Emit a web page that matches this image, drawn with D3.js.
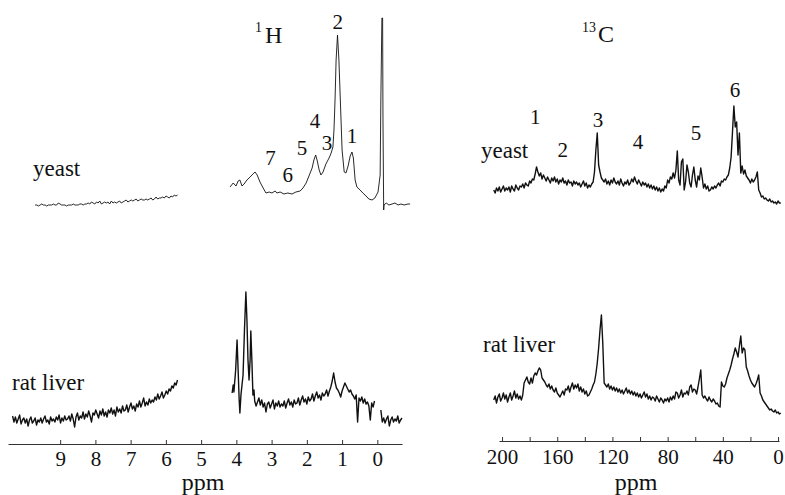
<!DOCTYPE html>
<html>
<head>
<meta charset="utf-8">
<script src="https://cdn.jsdelivr.net/npm/d3@7"></script>
</head>
<body style="margin:0; background:#fff">
<div id="my_dataviz"></div>
<script>
// tick values for the two ppm axes
const hTicks = [9, 8, 7, 6, 5, 4, 3, 2, 1, 0];
const cTicks = [200, 180, 160, 140, 120, 100, 80, 60, 40, 20, 0];

// peak numbers, their shift (ppm) and the height of the label (intensity units)
const hPeakText = ["1", "2", "3", "4", "5", "6", "7"];
const hPeakPpm = [0.72, 1.12, 1.43, 1.77, 2.14, 2.54, 3.03];
const hPeakLevel = [67, 181, 60, 82, 55, 28, 45];
const cPeakText = ["1", "2", "3", "4", "5", "6"];
const cPeakPpm = [176, 156, 130.5, 101.5, 59.4, 31.2];
const cPeakLevel = [86, 53, 83, 61, 70, 113];

// yeast 1H, low-field part (9.71 ppm down, step 0.047 ppm)
const yeastH_left = [
  5,5,4,5,6,5,5,4,5,5, 5,6,5,5,7,6,5,5,5,4, 5,5,5,6,5,5,5,6,6,5,
  6,6,7,6,8,7,6,8,7,9, 6,7,8,7,8,6,9,7,8,7, 8,9,7,8,9,10,8,9,10,9,
  10,11,9,10,11,10,10,11,10,11, 12,10,11,13,11,12,12,13,12,14, 13,12,14,13,15,14,15
];

// yeast 1H, high-field part [ppm, intensity]
const yeastH_right = [
  [4.18,23],[4.09,27],[4.01,24],[3.95,29],[3.90,30],[3.84,24],[3.78,26],[3.70,30],
  [3.61,33],[3.53,36],[3.47,38],[3.41,35],[3.33,28],[3.24,22],[3.16,17],[3.07,18],
  [2.99,17],[2.90,19],[2.85,17],[2.76,18],[2.65,16],[2.54,17],[2.42,16],[2.31,18],
  [2.19,19],[2.11,22],[2.02,27],[1.94,34],[1.85,42],[1.80,50],[1.75,55],[1.71,50],
  [1.65,40],[1.60,35],[1.54,38],[1.46,46],[1.37,52],[1.31,57],[1.26,63],[1.23,80],
  [1.20,110],[1.17,150],[1.13,175],[1.09,150],[1.04,100],[1.00,60],[0.94,38],[0.89,37],
  [0.83,44],[0.77,54],[0.72,58],[0.68,52],[0.63,30],[0.58,23],[0.49,20],[0.41,17],
  [0.32,14],[0.24,11],[0.15,10],[0.07,12],[-0.02,18],[-0.08,35],[-0.10,110],[-0.13,192],
  [-0.15,192],[-0.16,90],[-0.18,0],[-0.19,5],[-0.25,7],[-0.33,5],[-0.42,6],[-0.50,7],
  [-0.59,5],[-0.67,6],[-0.76,5],[-0.87,6],[-0.93,6]
];

// rat liver 1H, low-field part (10.35 ppm down, step 0.04 ppm)
const liverH_left = [
  9,3,8,2,6,10,1,5,7,2, 6,-1,5,8,2,4,7,0,5,3, 7,2,6,9,3,5,1,8,4,6,
  3,8,5,10,2,7,4,9,5,6, 9,4,11,6,-2,8,12,5,9,7, 13,6,11,8,14,9,3,12,10,15,
  11,7,14,10,16,9,13,8,15,12, 17,11,15,9,18,13,16,12,19,14, 15,20,13,18,22,16,19,14,21,18,
  24,18,22,27,19,23,20,26,22,25, 23,28,25,31,26,29,33,27,30,34, 31,36,34,39,37,42,40,45
];

// rat liver 1H, glucose/glycogen peaks [ppm, intensity]
const liverH_peaks = [
  [4.12,32],[4.09,40],[4.07,33],[4.02,55],[3.98,85],[3.95,55],[3.92,25],[3.90,12],
  [3.87,30],[3.84,40],[3.81,50],[3.77,95],[3.73,133],[3.70,105],[3.67,65],[3.64,45],
  [3.61,65],[3.59,94],[3.56,65],[3.53,30],[3.50,35]
];

// rat liver 1H, 3.48 ppm down to 0.08 ppm (step 0.04 ppm)
const liverH_mid = [
  24,19,23,27,20,25,18,22,13,21, 23,17,21,25,16,22,19,24,18,21,
  19,24,17,22,26,20,23,18,25,21, 22,27,20,25,29,23,26,21,28,24,
  26,31,24,29,33,27,30,25,32,29, 31,35,29,34,38,44,52,43,37,35,
  32,28,34,38,42,39,36,33,35,31, 29,26,30,3,27,24,28,22,26,21,
  23,19,5,22,18,24
];

// rat liver 1H, right of TMS (-0.10 ppm down, step 0.04 ppm)
const liverH_right = [15,3,7,2,6,9,-1,5,8,3,6,4,9,2,5,7];

// yeast 13C, 206 ppm down to -2 ppm, step 1 ppm
const yeastC = [
  20,17,22,19,23,18,21,24,19,22, 20,23,18,24,21,19,25,22,20,24,
  23,26,22,27,25,24,29,27,31,30, 36,43,38,34,37,31,35,32,29,33,
  30,27,32,29,33,28,31,26,30,28, 32,27,29,25,30,27,28,24,29,26,
  28,25,27,23,26,29,24,27,22,25, 23,26,28,38,60,77,45,38,32,30,
  28,31,26,29,25,30,27,32,28,26, 29,25,31,27,24,28,26,30,25,27,
  31,28,33,29,26,30,27,24,28,25, 27,23,26,22,25,21,24,20,23,19,
  22,18,21,19,24,22,30,27,33,31, 37,32,40,59,30,25,48,51,20,28,
  45,38,27,23,35,43,30,23,34,30, 42,33,22,26,21,24,19,20,23,21,
  24,22,25,27,24,29,28,31,30,33, 35,42,53,78,104,83,88,55,77,37,
  44,36,40,34,32,30,27,31,28,30, 33,38,20,17,13,14,11,12,10,9,
  11,8,9,7,8,6,9,7,7
];

// rat liver 13C, 206 ppm down to -2 ppm, step 1 ppm
const liverC = [
  20,24,17,23,26,19,22,27,21,25, 18,23,27,20,24,29,22,26,21,24,
  20,25,37,40,43,38,36,42,37,44, 47,45,49,52,50,42,40,38,35,33,
  36,31,34,30,28,32,27,25,23,26, 29,25,31,30,34,28,33,37,31,35,
  32,36,29,33,28,31,26,29,24,25, 28,31,35,38,46,57,72,90,105,77,
  37,35,33,36,31,34,30,33,29,32, 28,31,27,30,26,29,32,27,30,26,
  29,25,28,24,27,23,26,22,25,28, 23,26,21,24,20,23,22,19,24,21,
  18,22,20,17,21,19,22,18,23,20, 24,21,28,27,22,25,30,23,27,26,
  29,25,33,35,28,31,30,26,33,41, 50,25,22,24,21,19,23,20,18,21,
  19,16,17,14,13,38,34,33,36,42, 46,50,55,61,66,72,68,63,74,84,
  67,72,70,53,49,44,40,37,35,33, 36,40,45,27,24,20,18,16,14,12,
  10,11,9,8,10,7,8,6,7
];

const width = 785, height = 495;
const serif = "Liberation Serif";

const svg = d3.select("#my_dataviz")
  .append("svg")
  .attr("width", width)
  .attr("height", height);

svg.append("rect").attr("width", width).attr("height", height).attr("fill", "#fff");

// scales
const xH = d3.scaleLinear().domain([10.48, -0.7]).range([8, 402]);
const xC = d3.scaleLinear().domain([202.2, -0.7]).range([499, 779]);
const yTop = d3.scaleLinear().domain([0, 200]).range([210, 10]);
const yBotH = d3.scaleLinear().domain([0, 200]).range([425, 225]);
const yBotC = d3.scaleLinear().domain([0, 200]).range([420, 220]);

// turn an evenly spaced trace into [ppm, value] pairs
function spaced(start, step, values) {
  return values.map((v, i) => [start + i * step, v]);
}

function trace(data, x, y, w) {
  svg.append("path")
    .datum(data)
    .attr("fill", "none")
    .attr("stroke", "#111")
    .attr("stroke-width", w)
    .attr("stroke-linejoin", "round")
    .attr("d", d3.line().x(d => x(d[0])).y(d => y(d[1])));
}

function label(x, y, size, txt, anchor) {
  return svg.append("text")
    .attr("x", x).attr("y", y)
    .attr("font-family", serif)
    .attr("font-size", size)
    .attr("fill", "#111")
    .attr("text-anchor", anchor || "start")
    .text(txt);
}

// spectra
trace(spaced(9.71, -0.047, yeastH_left), xH, yTop, 0.9);
trace(yeastH_right, xH, yTop, 0.9);
trace(spaced(10.35, -0.04, liverH_left), xH, yBotH, 1.4);
trace(liverH_peaks.concat(spaced(3.48, -0.04, liverH_mid)), xH, yBotH, 1.4);
trace(spaced(-0.10, -0.04, liverH_right), xH, yBotH, 1.4);
trace(spaced(206, -1, yeastC), xC, yTop, 1.4);
trace(spaced(206, -1, liverC), xC, yBotC, 1.4);

// axes (ticks point upward)
const axH = svg.append("g")
  .attr("transform", "translate(0,444)")
  .call(d3.axisBottom(xH).tickValues(hTicks).tickSizeInner(-4).tickSizeOuter(0).tickPadding(7));

const axC = svg.append("g")
  .attr("transform", "translate(0,441)")
  .call(d3.axisBottom(xC).tickValues(cTicks).tickSizeInner(-4).tickSizeOuter(0).tickPadding(8)
    .tickFormat(d => d % 40 === 0 ? d : ""));

[axH, axC].forEach(ax => {
  ax.attr("font-family", serif).attr("font-size", 21);
  ax.select(".domain").attr("stroke", "#333").attr("stroke-width", 1.2);
  ax.selectAll(".tick line").attr("stroke", "#333");
  ax.selectAll(".tick text").attr("fill", "#111").attr("font-family", serif);
});

// axis titles
label(203, 490, 24, "ppm", "middle");
label(636, 490, 24, "ppm", "middle");

// nucleus titles
const tH = label(255, 43, 24, "");
tH.append("tspan").attr("font-size", 14).attr("dy", -11).text("1");
tH.append("tspan").attr("font-size", 24).attr("dx", 3).attr("dy", 11).text("H");

const tC = label(582, 42, 24, "");
tC.append("tspan").attr("font-size", 14).attr("dy", -10).text("13");
tC.append("tspan").attr("font-size", 24).attr("dx", 2).attr("dy", 10).text("C");

// sample names
label(33, 176, 23, "yeast");
label(12, 390, 23, "rat liver");
label(481, 158, 23, "yeast");
label(483, 352, 23, "rat liver");

// peak numbers
hPeakText.forEach((t, i) => label(xH(hPeakPpm[i]), yTop(hPeakLevel[i]), 21, t, "middle"));
cPeakText.forEach((t, i) => label(xC(cPeakPpm[i]), yTop(cPeakLevel[i]), 21, t, "middle"));
</script>
</body>
</html>
